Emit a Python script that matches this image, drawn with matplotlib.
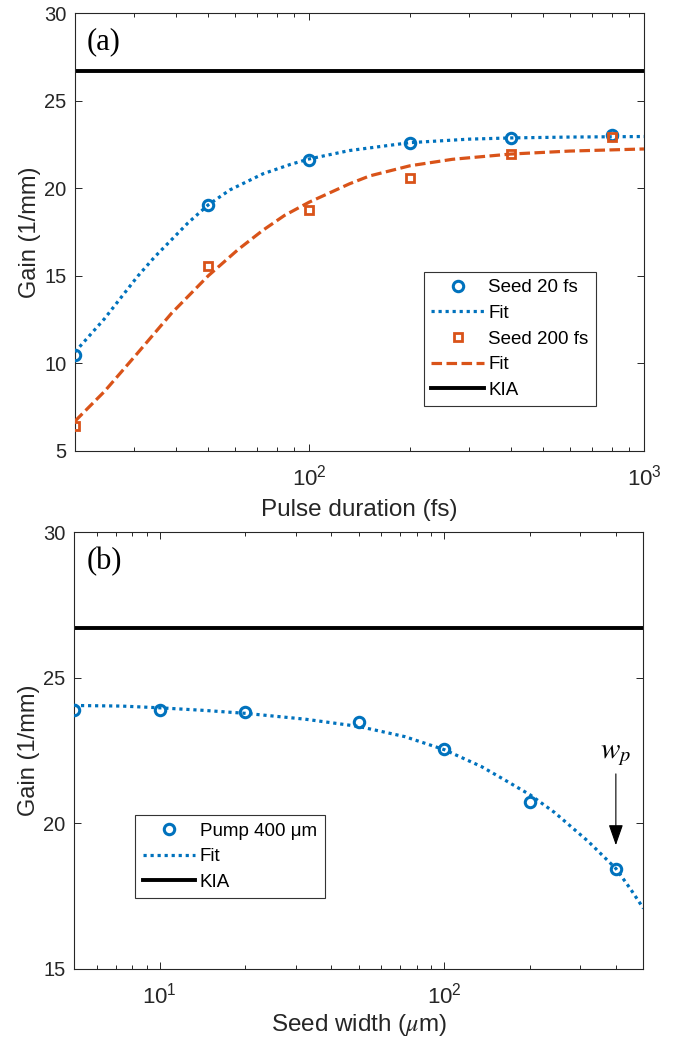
import matplotlib
matplotlib.use("Agg")
import matplotlib.pyplot as plt
from matplotlib.ticker import LogLocator, NullFormatter

plt.rcParams['font.family'] = ['Liberation Sans', 'DejaVu Sans']
plt.rcParams['mathtext.fontset'] = 'custom'
plt.rcParams['mathtext.rm'] = 'Liberation Sans'
plt.rcParams['mathtext.it'] = 'Liberation Sans:italic'
plt.rcParams['mathtext.bf'] = 'Liberation Sans:bold'

# ---------------- data: panel (a) ----------------
pulse_fs = [20, 50, 100, 200, 400, 800]
gain_seed20 = [10.5, 19.05, 21.6, 22.57, 22.88, 23.05]
gain_seed200 = [6.4, 15.55, 18.75, 20.6, 21.93, 22.92]

fit20_x = [20, 24.5, 27.5, 30.8, 34.6, 38.8, 43.5, 50, 58, 72.8, 88, 100, 132, 200, 300, 400, 600, 1000]
fit20_y = [10.65, 12.55, 13.78, 14.98, 16.08, 17.05, 18.02, 19.05, 19.9, 20.82, 21.36, 21.67, 22.15, 22.6, 22.8, 22.87, 22.92, 22.95]

fit200_x = [20, 24.5, 30.8, 38.8, 50, 61.4, 72.8, 84.5, 100, 132, 151.6, 200, 268, 400, 600, 1000]
fit200_y = [6.7, 8.4, 10.6, 12.85, 15.0, 16.5, 17.6, 18.45, 19.2, 20.25, 20.7, 21.28, 21.65, 21.95, 22.12, 22.24]

kia_gain = 26.7

# ---------------- data: panel (b) ----------------
seed_width_um = [5, 10, 20, 50, 100, 200, 400]
gain_pump400 = [23.9, 23.88, 23.82, 23.47, 22.56, 20.75, 18.43]

fitb_x = [5, 7.33, 10, 14.4, 20, 32.4, 50, 72.6, 100, 135, 163, 200, 244, 320, 400, 450, 500]
fitb_y = [24.05, 24.03, 23.97, 23.88, 23.78, 23.58, 23.33, 22.98, 22.53, 21.95, 21.49, 20.98, 20.37, 19.38, 18.45, 17.75, 17.08]

pump_width = 400
arrow_y_start = 21.7
arrow_y_end = 19.25
wp_label_y = 22.4

# ---------------- styling ----------------
BLUE = '#0072BD'
ORANGE = '#D95319'
AXC = '#262626'

fig = plt.figure(figsize=(6.73, 10.42), dpi=100)
ax1 = fig.add_axes([0.1114, 0.5672, 0.8455, 0.4203])
ax2 = fig.add_axes([0.1099, 0.0701, 0.8462, 0.4191])


def style_axes(ax):
    ax.set_xscale('log')
    for s in ax.spines.values():
        s.set_color(AXC)
        s.set_linewidth(0.8)
    ax.tick_params(which='both', direction='in', top=True, right=True,
                   colors=AXC, labelcolor=AXC, width=0.7)
    ax.tick_params(which='major', length=5)
    ax.tick_params(axis='y', which='major', labelsize=14.5, pad=6)
    ax.tick_params(axis='x', which='major', labelsize=16, pad=10)
    ax.tick_params(which='minor', length=3)
    ax.xaxis.set_minor_locator(LogLocator(base=10, subs=range(2, 10), numticks=20))
    ax.xaxis.set_minor_formatter(NullFormatter())


leg_kw = dict(loc='upper left', borderaxespad=0, fontsize=13.5, handlelength=2.8,
              handletextpad=0.25, labelspacing=0.45, borderpad=0.4, fancybox=False,
              framealpha=1, edgecolor='#333333')

# ---------------- panel (a) ----------------
style_axes(ax1)
ax1.plot(pulse_fs, gain_seed20, 'o', ms=7.5, mfc='none', mec=BLUE, mew=2.2,
         label='Seed 20 fs', zorder=4)
ax1.plot(fit20_x, fit20_y, color=BLUE, lw=2.3, ls=(0, (1, 1.2)), label='Fit', zorder=3)
ax1.plot(pulse_fs, gain_seed200, 's', ms=5.5, mfc='none', mec=ORANGE, mew=2.0,
         label='Seed 200 fs', zorder=4)
ax1.plot(fit200_x, fit200_y, color=ORANGE, lw=2.3, ls=(0, (3.3, 1.4)), label='Fit', zorder=3)
ax1.axhline(kia_gain, color='black', lw=2.8, label='KIA')
ax1.set_xlim(20, 1000)
ax1.set_ylim(5, 30)
ax1.set_yticks([5, 10, 15, 20, 25, 30])
ax1.set_xlabel('Pulse duration (fs)', fontsize=17.5, color=AXC, labelpad=6)
ax1.set_ylabel('Gain (1/mm)', fontsize=17, color=AXC, labelpad=2)
ax1.text(0.021, 0.934, '(a)', transform=ax1.transAxes, fontsize=22,
         family='Liberation Serif', va='center', ha='left', color='black')
leg1 = ax1.legend(bbox_to_anchor=(0.613, 0.409), **leg_kw)
leg1.get_frame().set_linewidth(0.8)

# ---------------- panel (b) ----------------
style_axes(ax2)
ax2.plot(seed_width_um, gain_pump400, 'o', ms=7.5, mfc='none', mec=BLUE, mew=2.2,
         label='Pump 400 μm', zorder=4)
ax2.plot(fitb_x, fitb_y, color=BLUE, lw=2.3, ls=(0, (1, 1.2)), label='Fit', zorder=3)
ax2.axhline(kia_gain, color='black', lw=2.8, label='KIA')
ax2.set_xlim(5, 500)
ax2.set_ylim(15, 30)
ax2.set_yticks([15, 20, 25, 30])
ax2.set_xlabel(r'Seed width ($\mu$m)', fontsize=17.5, color=AXC, labelpad=2,
               math_fontfamily='stix')
ax2.set_ylabel('Gain (1/mm)', fontsize=17, color=AXC, labelpad=2)
ax2.text(0.023, 0.933, '(b)', transform=ax2.transAxes, fontsize=22,
         family='Liberation Serif', va='center', ha='left', color='black')
ax2.annotate('', xy=(pump_width, arrow_y_end), xytext=(pump_width, arrow_y_start),
             arrowprops=dict(arrowstyle='-|>,head_length=0.8,head_width=0.28',
                             color='black', lw=0.8, mutation_scale=16,
                             shrinkA=0, shrinkB=0))
ax2.text(pump_width, wp_label_y, r'$w_p$', fontsize=21, ha='center', va='center',
         math_fontfamily='stix', color='black')
leg2 = ax2.legend(bbox_to_anchor=(0.1076, 0.3527), **leg_kw)
leg2.get_frame().set_linewidth(0.8)

fig.savefig('out.png', dpi=100)
